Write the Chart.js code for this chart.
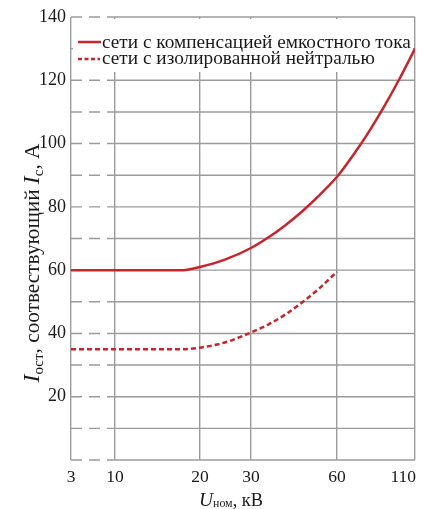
<!DOCTYPE html>
<html>
<head>
<meta charset="utf-8">
<script src="https://cdn.jsdelivr.net/npm/chart.js@4/dist/chart.umd.min.js"></script>
<style>
  html, body { margin: 0; padding: 0; background: #fff; }
  #wrap { width: 425px; height: 509px; position: relative; }
</style>
</head>
<body>
<div id="wrap"><canvas id="c"></canvas></div>
<script>
// ---- data ----
const xTickKV = [3, 10, 20, 30, 60, 110];
const yTickLabels = [20, 40, 60, 80, 100, 120, 140];

const compKV = [3, 10, 18, 20, 25, 30, 36, 42, 48, 54, 60, 70, 80, 90, 100, 110];
const compI  = [60, 60, 60, 61, 63.4, 67, 70.3, 74.2, 78.7, 83.8, 89.5, 96.1, 103.4, 111.5, 120.4, 130];

const isoKV = [3, 10, 18, 20, 25, 30, 36, 42, 48, 54, 60];
const isoI  = [35, 35, 35, 35.5, 37.2, 40.3, 42.8, 46.0, 49.9, 54.4, 59.5];

const legendLabels = ['сети с компенсацией емкостного тока', 'сети с изолированной нейтралью'];

// ---- axis geometry (non-uniform kV scale, piecewise between ticks) ----
const xAxisStops = [0, 44, 129, 180, 266, 344];
function toAxis(kv) {
  for (let i = 0; i < xTickKV.length - 1; i++) {
    const a = xTickKV[i], b = xTickKV[i + 1];
    if (kv <= b || i === xTickKV.length - 2) {
      return xAxisStops[i] + (kv - a) / (b - a) * (xAxisStops[i + 1] - xAxisStops[i]);
    }
  }
}

const RED = '#cc2229';
const GRID = '#9b9b9b';
const SERIF = '"Liberation Serif", "DejaVu Serif", serif';
const TEXT = '#1a1a1a';

function drawRich(ctx, segs, cx, cy, targetW) {
  const measure = k => {
    let total = 0;
    segs.forEach(s => { ctx.font = s.style + ' ' + (s.size * k).toFixed(2) + 'px ' + SERIF; s.w = ctx.measureText(s.t).width; total += s.w; });
    return total;
  };
  let k = 1;
  if (targetW) { k = targetW / measure(1); }
  const total = measure(k);
  let x = cx - total / 2;
  ctx.textBaseline = 'alphabetic';
  ctx.textAlign = 'left';
  segs.forEach(s => {
    ctx.font = s.style + ' ' + (s.size * k).toFixed(2) + 'px ' + SERIF;
    ctx.fillText(s.t, x, cy + (s.dy || 0) * k);
    x += s.w;
  });
}

const customPlugin = {
  id: 'custom',
  beforeDatasetsDraw(chart) {
    const { ctx, chartArea: a, scales: { x, y } } = chart;
    const xSplit = x.getPixelForValue(toAxis(10));
    ctx.save();
    ctx.strokeStyle = GRID;
    ctx.lineWidth = 1.4;
    y.ticks.forEach(t => {
      const py = y.getPixelForValue(t.value);
      ctx.setLineDash([11, 7]);
      ctx.beginPath(); ctx.moveTo(a.left, py); ctx.lineTo(xSplit, py); ctx.stroke();
      ctx.setLineDash([]);
      ctx.beginPath(); ctx.moveTo(xSplit, py); ctx.lineTo(a.right, py); ctx.stroke();
    });
    // legend box
    const lx = a.left + 2, ly = a.top + 2;
    ctx.fillStyle = '#fff';
    ctx.fillRect(lx, ly, a.right - lx - 2, 53);
    // legend samples
    ctx.strokeStyle = RED;
    ctx.lineWidth = 2.5;
    ctx.setLineDash([]);
    ctx.beginPath(); ctx.moveTo(a.left + 7, a.top + 25); ctx.lineTo(a.left + 30, a.top + 25); ctx.stroke();
    ctx.setLineDash([4, 2.5]);
    ctx.beginPath(); ctx.moveTo(a.left + 7, a.top + 42); ctx.lineTo(a.left + 29, a.top + 42); ctx.stroke();
    ctx.setLineDash([]);
    // legend text, fitted to the box width
    ctx.fillStyle = TEXT;
    let fs = 18;
    ctx.font = fs + 'px ' + SERIF;
    const w = ctx.measureText(legendLabels[0]).width;
    fs = fs * 309 / w;
    ctx.font = fs.toFixed(2) + 'px ' + SERIF;
    ctx.textAlign = 'left';
    ctx.textBaseline = 'alphabetic';
    ctx.fillText(legendLabels[0], a.left + 31, a.top + 31);
    ctx.fillText(legendLabels[1], a.left + 31, a.top + 47);
    ctx.restore();
  },
  afterDraw(chart) {
    const { ctx, chartArea: a, scales: { x } } = chart;
    ctx.save();
    ctx.fillStyle = TEXT;
    ctx.font = '17.5px ' + SERIF;
    ctx.textBaseline = 'middle';
    xTickKV.forEach((kv, i) => {
      const px = x.getPixelForValue(toAxis(kv));
      if (i === xTickKV.length - 1) { ctx.textAlign = 'right'; ctx.fillText(String(kv), px + 1, a.bottom + 17); }
      else { ctx.textAlign = 'center'; ctx.fillText(String(kv), px, a.bottom + 17); }
    });
    // x title
    drawRich(ctx, [
      { t: 'U', style: 'italic', size: 18 },
      { t: 'ном', style: 'normal', size: 11, dy: 1 },
      { t: ', кВ', style: 'normal', size: 17 }
    ], 231, a.bottom + 46, 64);
    // y title (rotated)
    ctx.translate(39, 263);
    ctx.rotate(-Math.PI / 2);
    drawRich(ctx, [
      { t: 'I', style: 'italic', size: 19 },
      { t: 'ост', style: 'normal', size: 12, dy: 3 },
      { t: ', соотвествующий ', style: 'normal', size: 17 },
      { t: 'I', style: 'italic', size: 19 },
      { t: 'c', style: 'normal', size: 12, dy: 3 },
      { t: ', А', style: 'normal', size: 17 }
    ], 0, 0, 239);
    ctx.restore();
  }
};

new Chart(document.getElementById('c'), {
  type: 'line',
  data: {
    datasets: [
      {
        label: legendLabels[0],
        data: compKV.map((kv, i) => ({ x: toAxis(kv), y: compI[i] })),
        borderColor: RED, borderWidth: 2.5, pointRadius: 0,
        cubicInterpolationMode: 'monotone', fill: false
      },
      {
        label: legendLabels[1],
        data: isoKV.map((kv, i) => ({ x: toAxis(kv), y: isoI[i] })),
        borderColor: RED, borderWidth: 2.5, borderDash: [5, 3], pointRadius: 0,
        cubicInterpolationMode: 'monotone', fill: false
      }
    ]
  },
  options: {
    responsive: true,
    maintainAspectRatio: false,
    animation: false,
    layout: { padding: { top: 17, right: 10, left: 0, bottom: 0 } },
    plugins: { legend: { display: false }, tooltip: { enabled: false } },
    scales: {
      x: {
        type: 'linear', min: 0, max: xAxisStops[xAxisStops.length - 1],
        afterBuildTicks: s => { s.ticks = xAxisStops.map(v => ({ value: v })); },
        afterFit: s => { s.height = 49; },
        ticks: { display: false },
        grid: { color: GRID, lineWidth: 1.4, drawTicks: false },
        border: { display: false }
      },
      y: {
        type: 'linear', min: 0, max: 140,
        afterFit: s => { s.width = 71; },
        ticks: {
          stepSize: 10, padding: 5, color: TEXT,
          font: { family: SERIF, size: 18 },
          callback: v => (yTickLabels.includes(v) ? String(v) : '')
        },
        grid: { display: false, drawTicks: false },
        border: { display: false }
      }
    }
  },
  plugins: [customPlugin]
});
</script>
</body>
</html>
